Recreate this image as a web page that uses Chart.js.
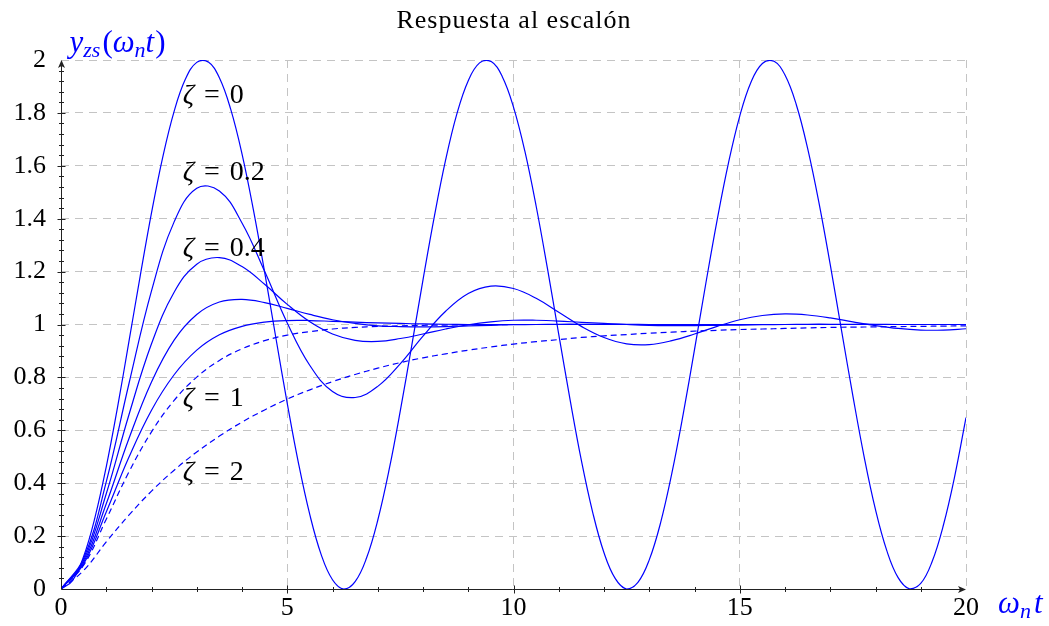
<!DOCTYPE html>
<html>
<head>
<meta charset="utf-8">
<title>Respuesta al escalón</title>
<script src="https://cdn.jsdelivr.net/npm/chart.js@4.4.1/dist/chart.umd.min.js"></script>
<style>
  html, body { margin: 0; padding: 0; background: #fff; }
  #wrap { width: 1049px; height: 626px; }
</style>
</head>
<body>
<div id="wrap"><canvas id="stepChart" width="1049" height="626"></canvas></div>
<script>
// sample points on the ω_n t axis
const tFine = [0, 0.25, 0.5, 0.75, 1, 1.25, 1.5, 1.75, 2, 2.25, 2.5, 2.75, 3, 3.25, 3.5, 3.75, 4, 4.25, 4.5, 4.75,
  5, 5.25, 5.5, 5.75, 6, 6.25, 6.5, 6.75, 7, 7.25, 7.5, 7.75, 8, 8.25, 8.5, 8.75, 9, 9.25, 9.5, 9.75,
  10, 10.25, 10.5, 10.75, 11, 11.25, 11.5, 11.75, 12, 12.25, 12.5, 12.75, 13, 13.25, 13.5, 13.75, 14, 14.25, 14.5, 14.75,
  15, 15.25, 15.5, 15.75, 16, 16.25, 16.5, 16.75, 17, 17.25, 17.5, 17.75, 18, 18.25, 18.5, 18.75, 19, 19.25, 19.5, 19.75, 20];
const tCoarse = [0, 0.5, 1, 1.5, 2, 2.5, 3, 3.5, 4, 4.5, 5, 5.5, 6, 6.5, 7, 7.5, 8, 8.5, 9, 9.5,
  10, 10.5, 11, 11.5, 12, 12.5, 13, 13.5, 14, 14.5, 15, 15.5, 16, 16.5, 17, 17.5, 18, 18.5, 19, 19.5, 20];

// y_zs, one list per damping ratio
const yZeta0 = [0, 0.031, 0.123, 0.270, 0.462, 0.688, 0.934, 1.183, 1.422, 1.634, 1.806, 1.928, 1.991, 1.993, 1.933, 1.814, 1.645,
  1.435, 1.198, 0.948, 0.702, 0.474, 0.280, 0.130, 0.035, 0.000, 0.028, 0.116, 0.260, 0.450, 0.675, 0.919, 1.169,
  1.408, 1.622, 1.797, 1.922, 1.989, 1.995, 1.938, 1.822, 1.656, 1.448, 1.212, 0.963, 0.716, 0.486, 0.290, 0.137,
  0.039, 0.000, 0.025, 0.110, 0.250, 0.438, 0.661, 0.905, 1.155, 1.395, 1.610, 1.788, 1.917, 1.987, 1.996, 1.943,
  1.831, 1.666, 1.461, 1.226, 0.977, 0.730, 0.499, 0.300, 0.145, 0.043, 0.001, 0.021, 0.103, 0.241, 0.426, 0.648];
const yZeta02 = [0, 0.115, 0.405, 0.775, 1.127, 1.388, 1.515, 1.505, 1.384, 1.201, 1.006,
  0.845, 0.747, 0.724, 0.766, 0.852, 0.956, 1.050, 1.117, 1.145, 1.136,
  1.099, 1.046, 0.993, 0.951, 0.927, 0.924, 0.939, 0.964, 0.993, 1.018,
  1.034, 1.040, 1.036, 1.025, 1.010, 0.996, 0.985, 0.979, 0.979, 0.984];
const yZeta04 = [0, 0.108, 0.360, 0.658, 0.927, 1.122, 1.228, 1.253, 1.219, 1.152, 1.076,
  1.010, 0.964, 0.940, 0.936, 0.947, 0.964, 0.983, 0.999, 1.010, 1.016,
  1.016, 1.013, 1.008, 1.004, 1.000, 0.997, 0.996, 0.996, 0.997, 0.998,
  0.999, 1.000, 1.001, 1.001, 1.001, 1.001, 1.000, 1.000, 1.000, 1.000];
const yZeta06 = [0, 0.101, 0.322, 0.568, 0.783, 0.941, 1.038, 1.085, 1.095, 1.083, 1.061,
  1.038, 1.018, 1.004, 0.995, 0.992, 0.991, 0.992, 0.995, 0.997, 0.999,
  1.000, 1.001, 1.001, 1.001, 1.001, 1.000, 1.000, 1.000, 1.000, 1.000,
  1.000, 1.000, 1.000, 1.000, 1.000, 1.000, 1.000, 1.000, 1.000, 1.000];
const yZeta08 = [0, 0.095, 0.291, 0.498, 0.676, 0.810, 0.903, 0.961, 0.993, 1.009, 1.015,
  1.015, 1.012, 1.009, 1.006, 1.004, 1.002, 1.001, 1.000, 1.000, 1.000,
  1.000, 1.000, 1.000, 1.000, 1.000, 1.000, 1.000, 1.000, 1.000, 1.000,
  1.000, 1.000, 1.000, 1.000, 1.000, 1.000, 1.000, 1.000, 1.000, 1.000];
const yZeta1 = [0, 0.090, 0.264, 0.442, 0.594, 0.713, 0.801, 0.864, 0.908, 0.939, 0.960,
  0.973, 0.983, 0.989, 0.993, 0.995, 0.997, 0.998, 0.999, 0.999, 1.000,
  1.000, 1.000, 1.000, 1.000, 1.000, 1.000, 1.000, 1.000, 1.000, 1.000,
  1.000, 1.000, 1.000, 1.000, 1.000, 1.000, 1.000, 1.000, 1.000, 1.000];
const yZeta2 = [0, 0.070, 0.178, 0.279, 0.370, 0.449, 0.518, 0.578, 0.631, 0.677, 0.718,
  0.753, 0.784, 0.811, 0.835, 0.856, 0.874, 0.889, 0.903, 0.915, 0.926,
  0.935, 0.943, 0.951, 0.957, 0.962, 0.967, 0.971, 0.975, 0.978, 0.981,
  0.983, 0.985, 0.987, 0.989, 0.990, 0.991, 0.992, 0.993, 0.994, 0.995];

const xTicks = [0, 5, 10, 15, 20];
const yTicks = [0, 0.2, 0.4, 0.6, 0.8, 1, 1.2, 1.4, 1.6, 1.8, 2];

// curve annotations (text + anchor in data units)
const zetaNames = ['0', '0.2', '0.4', '1', '2'];
const zetaNameY = [1.837, 1.546, 1.259, 0.692, 0.412];
const zetaNameX = 2.69;

const BLUE = '#0000ff';
const SERIF = '"Liberation Serif", "DejaVu Serif", serif';

function pts(xs, ys) {
    return xs.map(function(x, i) { return { x: x, y: ys[i] }; });
}

function curve(xs, ys, dashed) {
    return {
        data: pts(xs, ys),
        borderColor: BLUE,
        borderWidth: 1.2,
        borderDash: dashed ? [6, 4] : [],
        pointRadius: 0,
        tension: 0.4,
        fill: false
    };
}

// draws text pieces one after another (italic / subscript)
function drawMath(ctx, x, y, parts) {
    parts.forEach(function(p) {
        ctx.font = (p.it ? 'italic ' : '') + p.size + 'px ' + SERIF;
        ctx.fillText(p.s, x, y + (p.dy || 0));
        x += ctx.measureText(p.s).width + (p.gap || 0);
    });
}

const decor = {
    id: 'decor',
    afterDraw: function(chart) {
        const ctx = chart.ctx;
        const xs = chart.scales.x;
        const ys = chart.scales.y;
        const left = xs.getPixelForValue(xTicks[0]) + 0.5;
        const right = xs.getPixelForValue(xTicks[xTicks.length - 1]);
        const bottom = ys.getPixelForValue(yTicks[0]) + 0.5;
        const top = ys.getPixelForValue(yTicks[yTicks.length - 1]);

        ctx.save();
        ctx.strokeStyle = '#222';
        ctx.fillStyle = '#222';
        ctx.lineWidth = 1;

        // axis lines
        ctx.beginPath();
        ctx.moveTo(left, bottom);
        ctx.lineTo(right - 3, bottom);
        ctx.moveTo(left, bottom);
        ctx.lineTo(left, top + 3);
        ctx.stroke();

        // arrow tips
        ctx.beginPath();
        ctx.moveTo(right, bottom);
        ctx.lineTo(right - 8, bottom - 3.5);
        ctx.lineTo(right - 6, bottom);
        ctx.lineTo(right - 8, bottom + 3.5);
        ctx.closePath();
        ctx.fill();
        ctx.beginPath();
        ctx.moveTo(left, top);
        ctx.lineTo(left - 3.5, top + 8);
        ctx.lineTo(left, top + 6);
        ctx.lineTo(left + 3.5, top + 8);
        ctx.closePath();
        ctx.fill();

        // tick marks
        ctx.beginPath();
        for (let k = 1; k < 20; k++) {
            const px = Math.round(xs.getPixelForValue(k)) + 0.5;
            const len = k % 5 === 0 ? 4 : 2.5;
            ctx.moveTo(px, bottom - len);
            ctx.lineTo(px, bottom + len);
        }
        for (let k = 1; k < 50; k++) {
            const py = Math.round(ys.getPixelForValue(k * 0.04)) + 0.5;
            const len = k % 5 === 0 ? 4 : 2.5;
            ctx.moveTo(left - len, py);
            ctx.lineTo(left + len, py);
        }
        ctx.stroke();

        // title
        ctx.fillStyle = '#000';
        ctx.textAlign = 'center';
        ctx.textBaseline = 'alphabetic';
        ctx.font = '26px ' + SERIF;
        ctx.letterSpacing = '1px';
        ctx.fillText('Respuesta al escalón', 514, 28);
        ctx.letterSpacing = '0px';

        // ζ labels
        ctx.textAlign = 'left';
        zetaNames.forEach(function(name, i) {
            const px = xs.getPixelForValue(zetaNameX);
            const py = ys.getPixelForValue(zetaNameY[i]);
            drawMath(ctx, px, py, [
                { s: 'ζ', it: true, size: 28, gap: 10 },
                { s: '=', size: 28, gap: 10 },
                { s: name, size: 28 }
            ]);
        });

        // axis names
        ctx.fillStyle = BLUE;
        drawMath(ctx, left + 8, top - 8, [
            { s: 'y', it: true, size: 31 },
            { s: 'zs', it: true, size: 22, dy: 5, gap: 2 },
            { s: '(', size: 31 },
            { s: 'ω', it: true, size: 31 },
            { s: 'n', it: true, size: 22, dy: 5 },
            { s: 't', it: true, size: 31, gap: 1 },
            { s: ')', size: 31 }
        ]);
        drawMath(ctx, right + 32, bottom + 23, [
            { s: 'ω', it: true, size: 31 },
            { s: 'n', it: true, size: 22, dy: 5, gap: 3 },
            { s: 't', it: true, size: 31 }
        ]);
        ctx.restore();
    }
};

document.addEventListener('DOMContentLoaded', function() {
    const canvas = document.getElementById('stepChart');

    new Chart(canvas, {
        type: 'line',
        data: {
            datasets: [
                curve(tFine, yZeta0, false),
                curve(tCoarse, yZeta02, false),
                curve(tCoarse, yZeta04, false),
                curve(tCoarse, yZeta06, false),
                curve(tCoarse, yZeta08, false),
                curve(tCoarse, yZeta1, true),
                curve(tCoarse, yZeta2, true)
            ]
        },
        options: {
            responsive: false,
            animation: false,
            layout: { padding: { top: 60, right: 83, left: 0, bottom: 0 } },
            plugins: {
                legend: { display: false },
                tooltip: { enabled: false },
                title: { display: false }
            },
            scales: {
                x: {
                    type: 'linear',
                    min: 0,
                    max: 20,
                    afterBuildTicks: function(scale) {
                        scale.ticks = xTicks.map(function(v) { return { value: v }; });
                    },
                    afterFit: function(scale) { scale.height = 37; },
                    grid: { color: '#c4c4c4', lineWidth: 1, drawTicks: false },
                    border: { display: false, dash: [8, 6] },
                    ticks: {
                        padding: 4,
                        color: '#000',
                        font: { family: SERIF, size: 26 },
                        maxRotation: 0,
                        callback: function(v) { return String(v); }
                    }
                },
                y: {
                    min: 0,
                    max: 2,
                    afterBuildTicks: function(scale) {
                        scale.ticks = yTicks.map(function(v) { return { value: v }; });
                    },
                    afterFit: function(scale) { scale.width = 61; },
                    grid: { color: '#c4c4c4', lineWidth: 1, drawTicks: false },
                    border: { display: false, dash: [8, 6] },
                    ticks: {
                        padding: 15,
                        color: '#000',
                        font: { family: SERIF, size: 26 },
                        callback: function(v) { return String(v); }
                    }
                }
            }
        },
        plugins: [decor]
    });
});
</script>
</body>
</html>
